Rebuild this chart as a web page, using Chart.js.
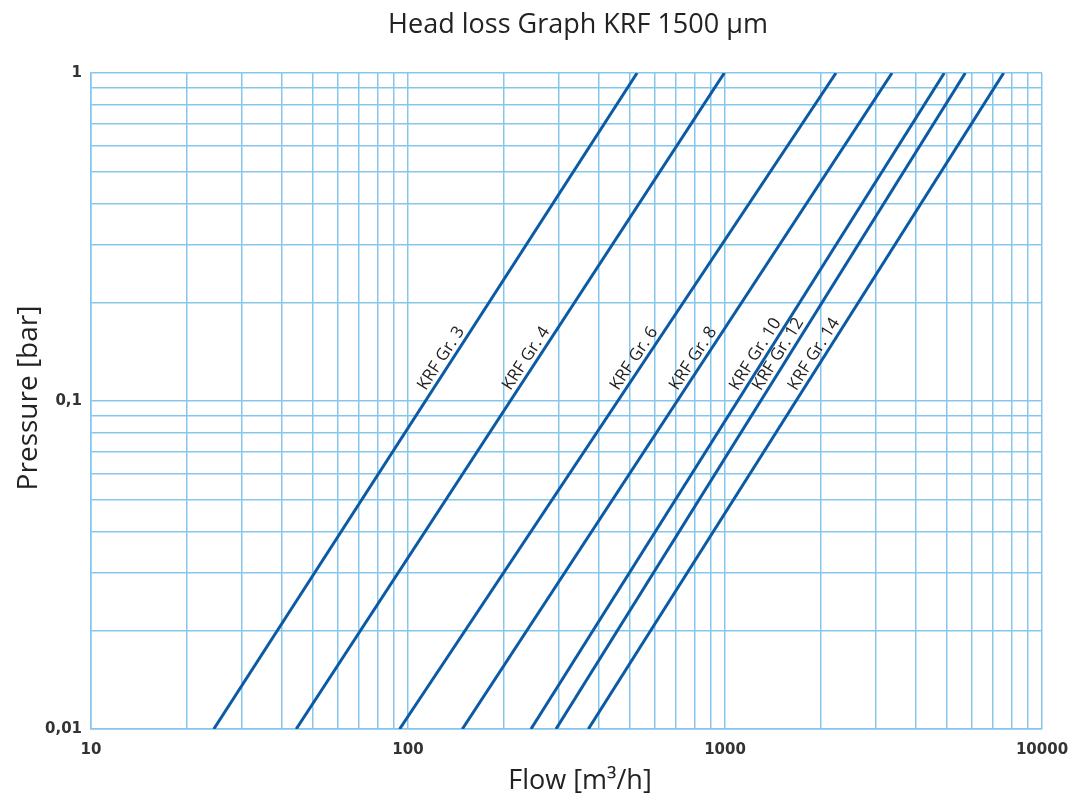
<!DOCTYPE html>
<html><head><meta charset="utf-8">
<script src="https://cdn.jsdelivr.net/npm/chart.js@4.4.1/dist/chart.umd.min.js"></script>
<style>html,body{margin:0;padding:0;background:#fff;}canvas{display:block;}</style>
</head><body>
<canvas id="c" width="1075" height="802"></canvas>
<script>
// ---- data ----
const seriesNames = ['KRF Gr. 3','KRF Gr. 4','KRF Gr. 6','KRF Gr. 8','KRF Gr. 10','KRF Gr. 12','KRF Gr. 14'];
const flowAtMinPressure = [24.4, 44.4, 94.1, 148.4, 244.3, 293, 370.6];   // m3/h at 0.01 bar
const flowAtMaxPressure = [528, 995, 2239, 3364, 4918, 5728, 7568];       // m3/h at 1 bar
const pressureEnds = [0.01, 1];
const xTickValues = [10,20,30,40,50,60,70,80,90,100,200,300,400,500,600,700,800,900,1000,2000,3000,4000,5000,6000,7000,8000,9000,10000];
const yTickValues = [0.01,0.02,0.03,0.04,0.05,0.06,0.07,0.08,0.09,0.1,0.2,0.3,0.4,0.5,0.6,0.7,0.8,0.9,1];
const xLabeled = [10,100,1000,10000];
const xLabelTexts = ['10','100','1000','10000'];
const yLabeled = [0.01,0.1,1];
const yLabelTexts = ['0,01','0,1','1'];
const labelPressure = 0.105;
const titleText = 'Head loss Graph KRF 1500 µm';
const xTitleText = 'Flow [m³/h]';
const yTitleText = 'Pressure [bar]';

const lineColor = '#0b5aa6';
const gridColor = '#86c5ec';
const textColor = '#222222';

function labelFor(v, vals, texts){
  for (let i=0;i<vals.length;i++){ if (Math.abs(v-vals[i]) < vals[i]*1e-6) return texts[i]; }
  return '';
}

const datasets = seriesNames.map((n,i)=>({
  label: n,
  data: [{x: flowAtMinPressure[i], y: pressureEnds[0]}, {x: flowAtMaxPressure[i], y: pressureEnds[1]}],
  borderColor: lineColor, borderWidth: 3, pointRadius: 0, fill: false, tension: 0
}));

const lineLabels = {
  id: 'lineLabels',
  afterDatasetsDraw(chart){
    const ctx = chart.ctx, xs = chart.scales.x, ys = chart.scales.y;
    ctx.save();
    ctx.font = '17px "Open Sans"';
    ctx.fillStyle = textColor;
    ctx.textAlign = 'left';
    ctx.textBaseline = 'alphabetic';
    chart.data.datasets.forEach((ds,i)=>{
      const a = ds.data[0], b = ds.data[1];
      const ax = xs.getPixelForValue(a.x), ay = ys.getPixelForValue(a.y);
      const bx = xs.getPixelForValue(b.x), by = ys.getPixelForValue(b.y);
      const t = (Math.log10(labelPressure)-Math.log10(a.y))/(Math.log10(b.y)-Math.log10(a.y));
      const px = ax + t*(bx-ax), py = ay + t*(by-ay);
      const ang = Math.atan2(by-ay, bx-ax);
      ctx.save();
      ctx.translate(px, py);
      ctx.rotate(ang);
      ctx.fillText(seriesNames[i], 0, -5);
      ctx.restore();
    });
    ctx.restore();
  },
  afterDraw(chart){
    const ctx = chart.ctx;
    ctx.save();
    ctx.fillStyle = textColor;
    ctx.textAlign = 'center';
    ctx.textBaseline = 'middle';
    ctx.font = '27px "Open Sans"';
    ctx.fillText(titleText, 578, 25);
    ctx.font = '27px "Open Sans"';
    ctx.fillText(xTitleText, 580, 781);
    ctx.translate(29, 398);
    ctx.rotate(-Math.PI/2);
    ctx.font = '28px "Open Sans"';
    ctx.fillText(yTitleText, 0, 0);
    ctx.restore();
  }
};

new Chart(document.getElementById('c'), {
  type: 'line',
  data: { datasets },
  options: {
    responsive: false,
    animation: false,
    devicePixelRatio: 1,
    layout: { padding: { top: 73, right: 33, bottom: 0, left: 0 } },
    plugins: { legend: { display: false }, tooltip: { enabled: false }, title: { display: false } },
    scales: {
      x: {
        type: 'logarithmic', min: 10, max: 10000,
        afterBuildTicks: s => { s.ticks = xTickValues.map(v => ({ value: v })); },
        afterFit: s => { s.height = 73; s.paddingLeft = 0; s.paddingRight = 0; },
        grid: { color: gridColor, lineWidth: 1.5, drawTicks: false },
        border: { color: gridColor, width: 1.5 },
        ticks: {
          autoSkip: false, maxRotation: 0, padding: 12, color: '#333',
          font: { family: '"DejaVu Sans"', size: 15, weight: 'bold' },
          callback: v => labelFor(v, xLabeled, xLabelTexts)
        }
      },
      y: {
        type: 'logarithmic', min: 0.01, max: 1,
        afterBuildTicks: s => { s.ticks = yTickValues.map(v => ({ value: v })); },
        afterFit: s => { s.width = 91; s.paddingTop = 0; s.paddingBottom = 0; },
        grid: { color: gridColor, lineWidth: 1.5, drawTicks: false },
        border: { color: gridColor, width: 1.5 },
        ticks: {
          autoSkip: false, padding: 9, color: '#333',
          font: { family: '"DejaVu Sans"', size: 15, weight: 'bold' },
          callback: v => labelFor(v, yLabeled, yLabelTexts)
        }
      }
    }
  },
  plugins: [lineLabels]
});
</script>
</body></html>
